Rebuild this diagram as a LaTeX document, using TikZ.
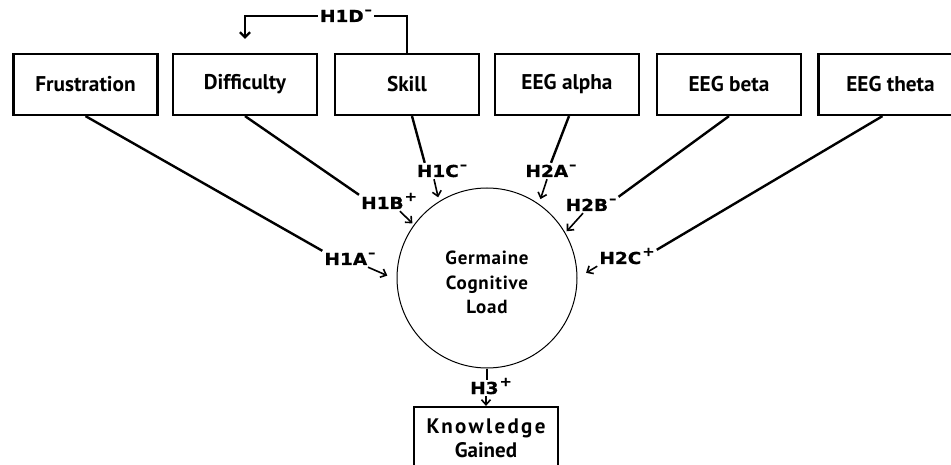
\documentclass[tikz,border=0pt]{standalone}
\usepackage{fontspec}
\setmainfont{PT Sans}
\newfontfamily\labelfont[FakeStretch=1.12, FakeBold=0.8]{DejaVu Sans}
\usetikzlibrary{arrows.meta}

\newcommand\supm{\kern1pt\raisebox{8pt}{\fontsize{13}{13}\selectfont\textendash}}
\newcommand\supp{\kern1pt\raisebox{8pt}{\fontsize{13}{13}\selectfont+}}

\tikzset{
  var/.style={draw, line width=2.2pt, minimum width=144pt, minimum height=61pt,
    inner sep=0pt, font=\fontsize{21.3}{24}\selectfont\bfseries},
  hyp/.style={inner sep=2pt, text height=12pt, text depth=0pt,
    font=\labelfont\fontsize{16.5}{20}\selectfont\bfseries},
  link/.style={line width=2.4pt},
  arr/.style={line width=1.6pt, -{Straight Barb[length=5pt,width=9pt]}},
}

\begin{document}
\begin{tikzpicture}[x=1pt, y=-1pt]
  \useasboundingbox (0,0) rectangle (951,465);

  % the six variables along the top
  \node[var] (frus) at (85.5,84.5) {Frustration};
  \node[var] (diff) at (245,84.5) {Difficulty};
  \node[var] (skill) at (407,84.5) {Skill};
  \node[var] (alpha) at (567,84.5) {EEG alpha};
  \node[var] (beta) at (729,84.5) {EEG beta};
  \node[var] (theta) at (890.5,84.5) {EEG theta};

  % the load in the middle and the outcome below it
  \node[draw, circle, line width=1pt, minimum size=180pt, inner sep=0pt, align=center,
    text height=72pt,
    font=\fontsize{19}{24.5}\selectfont\bfseries\addfontfeatures{LetterSpace=4}] (gcl) at (487,278)
    {Germaine\\Cognitive\\Load};
  \node[var, minimum height=62pt, align=center, font=\fontsize{21}{24}\selectfont\bfseries]
    (kg) at (486,438) {{\addfontfeatures{LetterSpace=11}Knowledge}\\Gained};

  % hypothesis labels
  \node[hyp] (h1d) at (346,16) {H1D\supm};
  \node[hyp] (h1a) at (350,259) {H1A\supm};
  \node[hyp] (h1b) at (389,203) {H1B\supp};
  \node[hyp] (h1c) at (442,171) {H1C\supm};
  \node[hyp] (h2a) at (551,171) {H2A\supm};
  \node[hyp] (h2b) at (591,205) {H2B\supm};
  \node[hyp] (h2c) at (627,258) {H2C\supp};
  \node[hyp] (h3) at (491,388) {H3\supp};

  % lines from the variables to the labels
  \draw[link] (frus.south) -- (h1a.north west);
  \draw[link] (diff.south) -- (h1b.north west);
  \draw[link] ([xshift=5pt]skill.south) -- ([xshift=10pt]h1c.north west);
  \draw[link] ([xshift=2pt]alpha.south) -- (h2a.north);
  \draw[link] (beta.south) -- (h2b.north east);
  \draw[link] ([xshift=-8pt]theta.south) -- (h2c.north east);
  \draw[link] (gcl.south) -- (gcl.south |- h3.north);

  % short arrows into the load
  \draw[arr, shorten >=10pt] ([xshift=18pt]h1a.south) -- (gcl.181);
  \draw[arr, shorten >=2pt] ([xshift=11pt]h1b.south) -- (gcl.144);
  \draw[arr, shorten >=4pt] ([xshift=-8pt]h1c.south) -- (gcl.122);
  \draw[arr, shorten >=5pt] ([xshift=-4pt]h2a.south) -- (gcl.55);
  \draw[arr, shorten >=2pt] ([xshift=-8pt]h2b.south) -- (gcl.30);
  \draw[arr, shorten >=10pt] (h2c.south west) -- (gcl.0);
  \draw[arr] (kg.north |- h3.south) -- (kg.north);

  % skill back to difficulty
  \draw[link] (skill.north) |- (h1d.east);
  \draw[link, -{Straight Barb[length=5pt,width=10pt]}, shorten >=14pt] (h1d.west) -| (diff.north);
\end{tikzpicture}
\end{document}
